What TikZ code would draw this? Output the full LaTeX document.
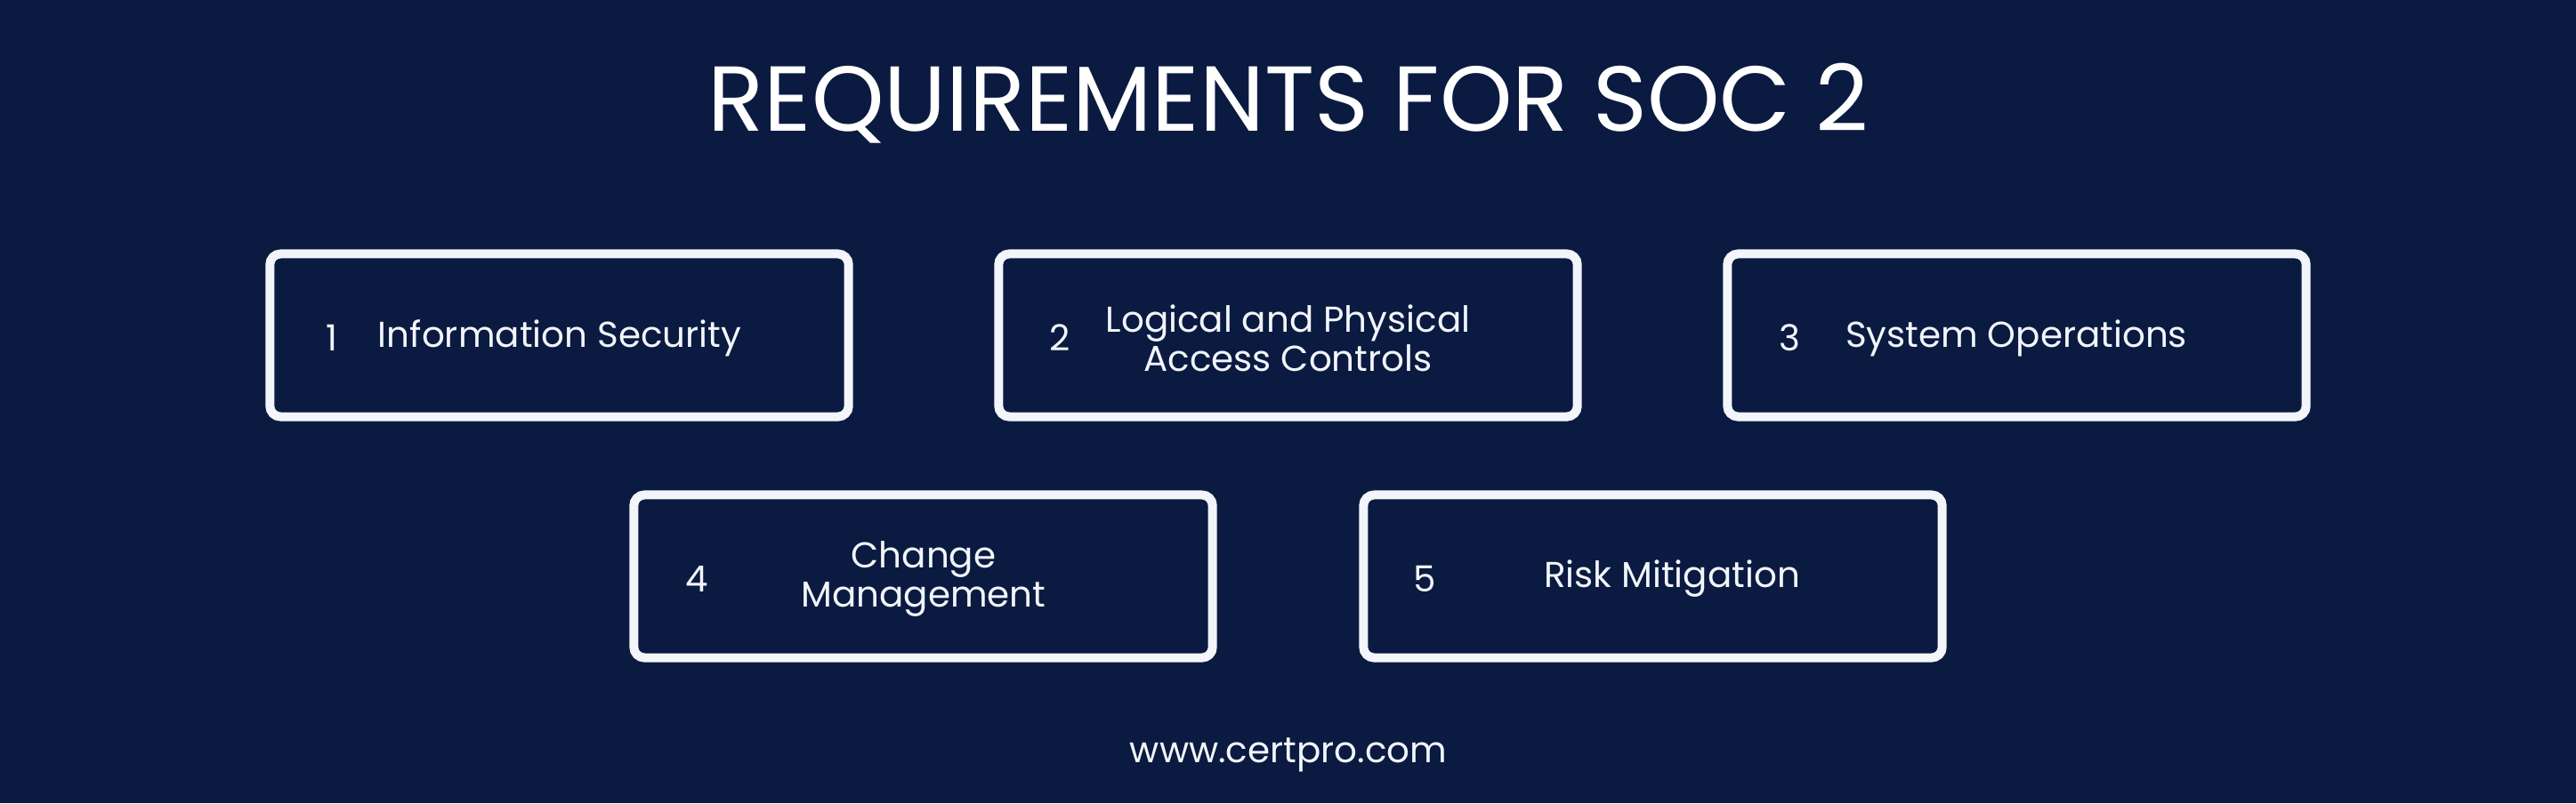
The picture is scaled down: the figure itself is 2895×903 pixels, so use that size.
\documentclass[tikz,border=0pt]{standalone}
\usepackage{fontspec}
\setmainfont{Poppins}
\usetikzlibrary{positioning}

\definecolor{navy}{HTML}{0B1A40}
\definecolor{boxline}{HTML}{F2F5FA}

\begin{document}
\begin{tikzpicture}[x=0.01cm, y=-0.01cm,
    reqbox/.style={draw=boxline, line width=0.1cm, rounded corners=0.12cm,
      minimum width=6.5cm, minimum height=1.83cm, inner sep=0pt},
    num/.style={text=boxline, font=\fontsize{11.5}{13}\selectfont},
    reqtext/.style={text=boxline, align=center, font=\fontsize{11.5}{12.5}\selectfont},
  ]
    \fill[navy] (0, 0) rectangle (2895, 903);
    \node[text=white, font=\fontsize{29.5}{34}\selectfont] (title) at (1448, 116) {REQUIREMENTS FOR SOC 2};
    % first row
    \node[reqbox] (r1) at (628.5, 377) {};
    \node[reqbox] (r2) at (1447.5, 377) {};
    \node[reqbox] (r3) at (2266.5, 377) {};
    % second row
    \node[reqbox] (r4) at (1037.5, 648) {};
    \node[reqbox] (r5) at (1857.5, 648) {};
    \node[num] (n1) at (373, 380) {1};
    \node[num] (n2) at (1191, 380) {2};
    \node[num] (n3) at (2011, 380) {3};
    \node[num] (n4) at (783, 651) {4};
    \node[num] (n5) at (1601, 651) {5};
    \node[reqtext] (t1) at (629, 380) {Information Security};
    \node[reqtext] (t2) at (1447.5, 380) {Logical and Physical\\Access Controls};
    \node[reqtext] (t3) at (2266, 380) {System Operations};
    \node[reqtext] (t4) at (1038, 651) {Change\\Management};
    \node[reqtext] (t5) at (1879, 651) {Risk Mitigation};
    \node[text=boxline, font=\fontsize{11.5}{13}\selectfont] (web) at (1448, 849) {www.certpro.com};
\end{tikzpicture}
\end{document}
